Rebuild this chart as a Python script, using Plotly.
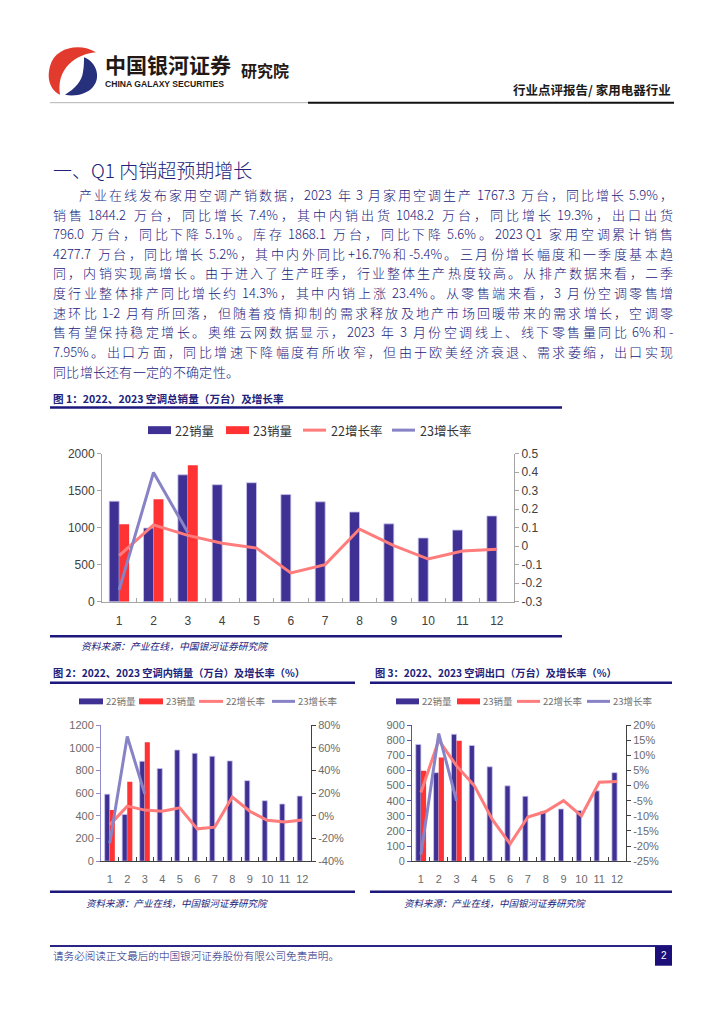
import plotly.graph_objects as go

W, H = 724, 1024

# ---------------- data ----------------
months = ["1", "2", "3", "4", "5", "6", "7", "8", "9", "10", "11", "12"]

total_22 = [1360, 996, 1716, 1582, 1609, 1449, 1351, 1213, 1053, 862, 969, 1160]
total_23 = [1049, 1387, 1844.2, None, None, None, None, None, None, None, None, None]
total_g22 = [-0.051, 0.116, 0.059, 0.016, -0.010, -0.144, -0.099, 0.093, 0.004, -0.069, -0.026, -0.016]
total_g23 = [-0.236, 0.399, 0.074, None, None, None, None, None, None, None, None, None]

dom_22 = [591, 412, 881, 817, 980, 951, 925, 884, 710, 533, 504, 574]
dom_23 = [452, 701, 1048.2, None, None, None, None, None, None, None, None, None]
dom_g22 = [-0.08, 0.085, 0.05, 0.04, 0.07, -0.115, -0.10, 0.165, 0.04, -0.04, -0.055, -0.038]
dom_g23 = [-0.243, 0.70, 0.193, None, None, None, None, None, None, None, None, None]

exp_22 = [772, 585, 839, 765, 624, 498, 429, 330, 345, 335, 465, 585]
exp_23 = [598, 685, 796.0, None, None, None, None, None, None, None, None, None]
exp_g22 = [-0.023, 0.15, 0.065, -0.001, -0.112, -0.193, -0.104, -0.086, -0.05, -0.10, 0.011, 0.013]
exp_g23 = [-0.228, 0.172, -0.051, None, None, None, None, None, None, None, None, None]

c1_left_ticks = [0, 500, 1000, 1500, 2000]
c1_right_ticks = [-0.3, -0.2, -0.1, 0, 0.1, 0.2, 0.3, 0.4, 0.5]
c1_right_text = ["-0.3", "-0.2", "-0.1", "0", "0.1", "0.2", "0.3", "0.4", "0.5"]
c2_left_ticks = [0, 200, 400, 600, 800, 1000, 1200]
c2_right_ticks = [-0.4, -0.2, 0, 0.2, 0.4, 0.6, 0.8]
c2_right_text = ["-40%", "-20%", "0%", "20%", "40%", "60%", "80%"]
c3_left_ticks = [0, 100, 200, 300, 400, 500, 600, 700, 800, 900]
c3_right_ticks = [-0.25, -0.2, -0.15, -0.1, -0.05, 0, 0.05, 0.1, 0.15, 0.2]
c3_right_text = ["-25%", "-20%", "-15%", "-10%", "-5%", "0%", "5%", "10%", "15%", "20%"]

series_names = ["22销量", "23销量", "22增长率", "23增长率"]

body_lines = [
    "产业在线发布家用空调产销数据，2023 年 3 月家用空调生产 1767.3 万台，同比增长 5.9%，",
    "销售 1844.2 万台，同比增长 7.4%，其中内销出货 1048.2 万台，同比增长 19.3%，出口出货",
    "796.0 万台，同比下降 5.1%。库存 1868.1 万台，同比下降 5.6%。2023 Q1 家用空调累计销售",
    "4277.7 万台，同比增长 5.2%，其中内外同比+16.7%和-5.4%。三月份增长幅度和一季度基本趋",
    "同，内销实现高增长。由于进入了生产旺季，行业整体生产热度较高。从排产数据来看，二季",
    "度行业整体排产同比增长约 14.3%，其中内销上涨 23.4%。从零售端来看，3 月份空调零售增",
    "速环比 1-2 月有所回落，但随着疫情抑制的需求释放及地产市场回暖带来的需求增长，空调零",
    "售有望保持稳定增长。奥维云网数据显示，2023 年 3 月份空调线上、线下零售量同比 6%和-",
    "7.95%。出口方面，同比增速下降幅度有所收窄，但由于欧美经济衰退、需求萎缩，出口实现",
    "同比增长还有一定的不确定性。",
]

# ---------------- styles ----------------
NAVY = "#3f3193"
RED = "#ff3333"
SALMON = "#ff7c7c"
PURPLE = "#8783c6"
TXT = "#21217a"
CJK = "Noto Sans CJK SC"
LAT = "Liberation Sans"


def X(px):
    return px / W


def Y(py):
    return 1 - py / H


def P(points):
    out = []
    for cmd, pts in points:
        out.append(cmd + " ".join("%.5f,%.5f" % (X(a), Y(b)) for a, b in pts))
    return " ".join(out) + " Z"


fig = go.Figure()

specs = [
    ("x", "y", "y2", total_22, total_23, total_g22, total_g23, 3),
    ("x2", "y3", "y4", dom_22, dom_23, dom_g22, dom_g23, 3),
    ("x3", "y5", "y6", exp_22, exp_23, exp_g22, exp_g23, 3),
]
for xa, yl, yr, b22, b23, g22, g23, lw in specs:
    fig.add_trace(go.Bar(x=months, y=b22, xaxis=xa, yaxis=yl, name=series_names[0],
                         marker=dict(color=NAVY, line=dict(color="#c9c5ec", width=0.8)),
                         showlegend=False))
    fig.add_trace(go.Bar(x=months, y=b23, xaxis=xa, yaxis=yl, name=series_names[1],
                         marker=dict(color=RED, line=dict(width=0)), showlegend=False))
    fig.add_trace(go.Scatter(x=months, y=g22, xaxis=xa, yaxis=yr, name=series_names[2],
                             mode="lines", line=dict(color=SALMON, width=lw), showlegend=False))
    fig.add_trace(go.Scatter(x=months, y=g23, xaxis=xa, yaxis=yr, name=series_names[3],
                             mode="lines", line=dict(color=PURPLE, width=lw), showlegend=False))


def xax(d0, d1, anchor, col, size, fcol, standoff):
    return dict(domain=[X(d0), X(d1)], anchor=anchor, type="category",
                showline=True, linecolor=col, linewidth=1, ticks="inside",
                tickson="boundaries", ticklen=4, tickcolor=col, showgrid=False,
                tickangle=0, ticklabelstandoff=standoff,
                tickfont=dict(family=LAT, size=size, color=fcol), fixedrange=True)


def yax(top, bot, anchor, rng, tv, tt, col, size, fcol, side="left", overlay=None):
    d = dict(domain=[Y(bot), Y(top)], anchor=anchor, range=rng, tickvals=tv,
             ticktext=tt, showline=True, linecolor=col, linewidth=1, ticks="outside",
             ticklen=4, tickcolor=col, showgrid=False, zeroline=False, side=side,
             tickfont=dict(family=LAT, size=size, color=fcol), fixedrange=True)
    if overlay:
        d["overlaying"] = overlay
    return d


fig.update_layout(
    width=W, height=H, margin=dict(l=0, r=0, t=0, b=0),
    paper_bgcolor="white", plot_bgcolor="rgba(0,0,0,0)",
    barmode="group", bargap=0.42, bargroupgap=0,
    xaxis=xax(102, 514, "y", "#a6a6a6", 12, "#404040", 8),
    yaxis=yax(453, 603, "x", [0, 2000], c1_left_ticks, [str(v) for v in c1_left_ticks],
              "#a6a6a6", 12, "#404040"),
    yaxis2=yax(453, 603, "x", [-0.3, 0.5], c1_right_ticks, c1_right_text,
               "#a6a6a6", 12, "#404040", side="right", overlay="y"),
    xaxis2=xax(101, 311, "y3", "#404040", 11, "#6b6b6b", 8),
    yaxis3=yax(728, 866, "x2", [0, 1200], c2_left_ticks, [str(v) for v in c2_left_ticks],
               "#8f8ace", 11, "#6b6b6b"),
    yaxis4=yax(728, 866, "x2", [-0.4, 0.8], c2_right_ticks, c2_right_text,
               "#404040", 11, "#6b6b6b", side="right", overlay="y3"),
    xaxis3=xax(412, 626, "y5", "#404040", 11, "#6b6b6b", 8),
    yaxis5=yax(728, 866, "x3", [0, 900], c3_left_ticks, [str(v) for v in c3_left_ticks],
               "#5a52aa", 11, "#6b6b6b"),
    yaxis6=yax(728, 866, "x3", [-0.25, 0.2], c3_right_ticks, c3_right_text,
               "#404040", 11, "#6b6b6b", side="right", overlay="y5"),
)

shapes = []
ann = []


def text(px, py, s, size, color, family=CJK, anchor="left", bold=False, italic=False,
         weight=None):
    if bold:
        s = "<b>" + s + "</b>"
    if italic:
        s = "<i>" + s + "</i>"
    f = dict(family=family, size=size, color=color)
    if weight:
        f["weight"] = weight
    ann.append(dict(x=X(px), y=Y(py), xref="paper", yref="paper", text=s, showarrow=False,
                    xanchor=anchor, yanchor="middle", borderpad=0, font=f))


def hline(x0, x1, y, color, width):
    shapes.append(dict(type="line", xref="paper", yref="paper", x0=X(x0), x1=X(x1),
                       y0=Y(y), y1=Y(y), line=dict(color=color, width=width)))


LAT_W = {".": 0.26, "%": 0.85, " ": 0.25, "-": 0.34, "+": 0.55, "Q": 0.68}


def is_cjk(ch):
    return ord(ch) >= 0x2E80


def justified(line, x0, x1, y, fs, justify=True):
    toks = []
    i = 0
    while i < len(line):
        if is_cjk(line[i]):
            toks.append((line[i], 0.0, 1.0))
            i += 1
        else:
            j = i
            while j < len(line) and not is_cjk(line[j]):
                j += 1
            run = line[i:j]
            lead = sum(LAT_W.get(c, 0.55) for c in run[:len(run) - len(run.lstrip())])
            toks.append((run, lead, sum(LAT_W.get(c, 0.55) for c in run)))
            i = j
    natural = sum(t[2] for t in toks) * fs
    e = (x1 - x0 - natural) / (len(toks) - 1) if justify and len(toks) > 1 else 0.3
    x = x0
    for t, lead, w in toks:
        if t.strip():
            text(x + lead * fs, y, t.strip(), fs, TXT, weight=300)
        x += w * fs + e


# ---- header ----
shapes.append(dict(type="path", xref="paper", yref="paper", fillcolor="#e23a2c",
                   line=dict(width=0),
                   path=P([("M", [(96, 46)]), ("C", [(81, 36), (55, 40), (50, 60)]),
                           ("C", [(46, 75), (52, 85), (60, 89)]),
                           ("C", [(58, 77), (61, 66), (69, 58)]),
                           ("C", [(76, 51), (86, 47), (96, 46)])])))
shapes.append(dict(type="path", xref="paper", yref="paper", fillcolor="#27307a",
                   line=dict(width=0),
                   path=P([("M", [(84, 51)]), ("C", [(97, 56), (101, 72), (93, 81)]),
                           ("C", [(87, 88), (76, 91), (65, 89)]),
                           ("C", [(75, 83), (82, 75), (83, 66)]),
                           ("C", [(84, 60), (84, 55), (84, 51)])])))
text(104, 58, "中国银河证券", 21, "#231815", bold=True)
text(104, 78, "CHINA GALAXY SECURITIES", 8.6, "#231815", family=LAT, bold=True)
text(240, 64, "研究院", 16, "#231815", bold=True)
text(672, 84, "行业点评报告/ 家用电器行业", 12.5, "#1a1a1a", anchor="right", bold=True)
hline(50, 308, 97, "#b4b4b4", 1)
hline(308, 674, 97, "#111111", 2)

# ---- section title + body ----
text(52, 165, "一、Q1 内销超预期增长", 19, TXT, weight=300)
for i, line in enumerate(body_lines):
    justified(line, 78 if i == 0 else 52, 672, 190 + i * 19.9, 13,
              justify=(i < len(body_lines) - 1))

# ---- figure 1 ----
text(52, 397, "图 1：2022、2023 空调总销量（万台）及增长率", 10.6, TXT, bold=True)
hline(50, 562, 406, "#1c187c", 2.5)
hline(50, 562, 638, "#1c187c", 2.5)
text(80, 648, "资料来源：产业在线，中国银河证券研究院", 9.8, TXT, italic=True)


def legend(y, items, h, size, color):
    for kind, col, x0, x1, tx, lab in items:
        if kind == "bar":
            shapes.append(dict(type="rect", xref="paper", yref="paper", x0=X(x0), x1=X(x1),
                               y0=Y(y + h / 2), y1=Y(y - h / 2), fillcolor=col,
                               line=dict(width=0)))
        else:
            shapes.append(dict(type="line", xref="paper", yref="paper", x0=X(x0), x1=X(x1),
                               y0=Y(y), y1=Y(y), line=dict(color=col, width=3)))
        text(tx, y, lab, size, color)


legend(429, [("bar", NAVY, 148, 171, 174, series_names[0]),
             ("bar", RED, 226, 249, 252, series_names[1]),
             ("line", SALMON, 303, 326, 330, series_names[2]),
             ("line", PURPLE, 392, 415, 419, series_names[3])], 8, 12.5, "#333333")

# ---- figure 2 ----
text(52, 675, "图 2：2022、2023 空调内销量（万台）及增长率（%）", 10.2, TXT, bold=True)
hline(50, 355, 685, "#1c187c", 2.5)
hline(50, 355, 897, "#1c187c", 2.5)
text(85, 908, "资料来源：产业在线，中国银河证券研究院", 9.5, TXT, italic=True)
legend(704, [("bar", NAVY, 79, 103, 105, series_names[0]),
             ("bar", RED, 139, 163, 165, series_names[1]),
             ("line", SALMON, 199, 223, 225, series_names[2]),
             ("line", PURPLE, 272, 295, 297, series_names[3])], 6, 9.5, "#707070")

# ---- figure 3 ----
text(374, 675, "图 3：2022、2023 空调出口（万台）及增长率（%）", 10.2, TXT, bold=True)
hline(370, 672, 685, "#1c187c", 2.5)
hline(370, 672, 897, "#1c187c", 2.5)
text(403, 908, "资料来源：产业在线，中国银河证券研究院", 9.5, TXT, italic=True)
legend(704, [("bar", NAVY, 396, 419, 421, series_names[0]),
             ("bar", RED, 457, 480, 482, series_names[1]),
             ("line", SALMON, 517, 540, 542, series_names[2]),
             ("line", PURPLE, 587, 610, 612, series_names[3])], 6, 9.5, "#707070")

# ---- footer ----
hline(50, 672, 952, "#2a2585", 2)
text(52, 962, "请务必阅读正文最后的中国银河证券股份有限公司免责声明。", 10.6, TXT, weight=300)
shapes.append(dict(type="rect", xref="paper", yref="paper", x0=X(655), x1=X(672),
                   y0=Y(972), y1=Y(952), fillcolor="#1c0f7a", line=dict(width=0)))
text(663.5, 962, "2", 10, "white", family=LAT, anchor="center")

fig.update_layout(shapes=shapes, annotations=ann)
fig.write_html("out.html", config={"displayModeBar": False},
               post_script="document.body.style.margin='0px';")
